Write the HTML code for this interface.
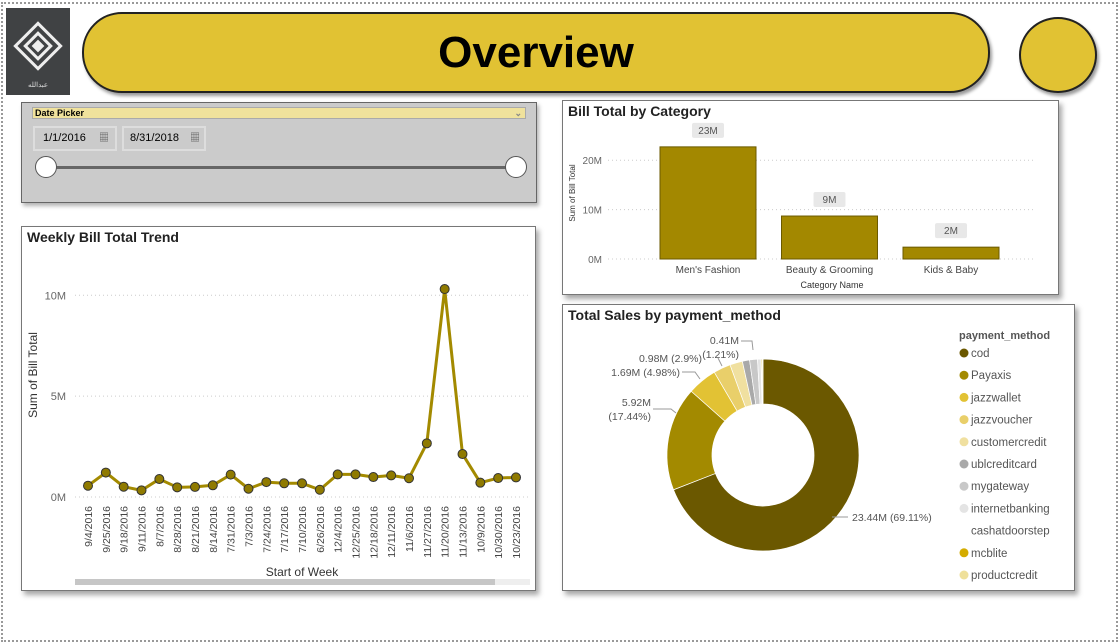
<!DOCTYPE html>
<html><head><meta charset="utf-8">
<style>
*{margin:0;padding:0;box-sizing:border-box}
body{width:1120px;height:631px;background:#fff;position:relative;overflow:hidden;font-family:"Liberation Sans","Noto Sans CJK SC",sans-serif}
.card{position:absolute;background:#fff;border:1px solid #777;box-shadow:3px 4px 5px rgba(0,0,0,.35)}
.title{position:absolute;left:5px;top:2px;font-weight:bold;font-size:14px;color:#222}
svg text{font-family:"Liberation Sans",sans-serif}
</style></head><body>
<div style="position:absolute;left:1px;top:2px;width:1117px;height:640px;border:2px dotted #999"></div>
<div style="position:absolute;left:6px;top:8px;width:64px;height:87px;background:#404244">
 <svg width="64" height="87"><g transform="translate(32,38) rotate(45)" fill="none" stroke="#eee" stroke-width="3"><rect x="-16" y="-16" width="32" height="32"/><rect x="-9" y="-9" width="18" height="18"/><rect x="-3" y="-3" width="6" height="6" fill="#eee"/></g><text x="32" y="79" fill="#ddd" font-size="7" text-anchor="middle">عبدالله</text></svg>
</div>
<div style="position:absolute;left:82px;top:12px;width:908px;height:81px;background:#e1c233;border:2px solid #222;border-radius:40px;box-shadow:2px 3px 3px rgba(0,0,0,.4);text-align:center;line-height:78px;font-size:44px;font-weight:bold;color:#000">Overview</div>
<div style="position:absolute;left:1019px;top:17px;width:78px;height:76px;border-radius:50%;background:#e1c233;border:2px solid #222;box-shadow:2px 3px 3px rgba(0,0,0,.4)"></div>

<div style="position:absolute;left:21px;top:102px;width:516px;height:101px;background:#cbcbcb;border:1px solid #666;box-shadow:2px 3px 4px rgba(0,0,0,.3)">
 <div style="position:absolute;left:10px;top:4px;width:494px;height:12px;background:#f0e29c;border:1px solid #aaa;font-size:9px;font-weight:bold;line-height:10px;padding-left:2px">Date Picker<span style="position:absolute;right:3px;top:0;color:#888">⌄</span></div>
 <div style="position:absolute;left:11px;top:23px;width:84px;height:25px;border:2px solid #ddd;font-size:11px;line-height:21px;padding-left:8px;white-space:nowrap">1/1/2016<span style="position:absolute;right:6px;color:#555;font-size:10px">▦</span></div>
 <div style="position:absolute;left:100px;top:23px;width:84px;height:25px;border:2px solid #ddd;font-size:11px;line-height:21px;padding-left:6px;white-space:nowrap">8/31/2018<span style="position:absolute;right:4px;color:#555;font-size:10px">▦</span></div>
 <div style="position:absolute;left:25px;top:63px;width:470px;height:3px;background:#666"></div>
 <div style="position:absolute;left:13px;top:53px;width:22px;height:22px;border-radius:50%;background:#fff;border:1px solid #555"></div>
 <div style="position:absolute;left:483px;top:53px;width:22px;height:22px;border-radius:50%;background:#fff;border:1px solid #555"></div>
</div>

<div class="card" style="left:21px;top:226px;width:515px;height:365px">
 <div class="title">Weekly Bill Total Trend</div>
</div>
<svg id="line" style="position:absolute;left:0;top:0" width="1120" height="631"></svg>

<div class="card" style="left:562px;top:100px;width:497px;height:195px">
 <div class="title">Bill Total by Category</div>
</div>
<div class="card" style="left:562px;top:304px;width:513px;height:287px">
 <div class="title">Total Sales by payment_method</div>
</div>
<svg id="over" style="position:absolute;left:0;top:0" width="1120" height="631"></svg>

<script>
// ---- weekly line data
const weeks=["9/4/2016","9/25/2016","9/18/2016","9/11/2016","8/7/2016","8/28/2016","8/21/2016","8/14/2016","7/31/2016","7/3/2016","7/24/2016","7/17/2016","7/10/2016","6/26/2016","12/4/2016","12/25/2016","12/18/2016","12/11/2016","11/6/2016","11/27/2016","11/20/2016","11/13/2016","10/9/2016","10/30/2016","10/23/2016"];
const weekValues=[0.56,1.21,0.51,0.33,0.89,0.48,0.50,0.58,1.11,0.41,0.74,0.68,0.68,0.36,1.12,1.12,0.99,1.07,0.93,2.66,10.31,2.13,0.71,0.94,0.97];
const lineTicks=[0,5,10];
const lineTickLabels=["0M","5M","10M"];
// ---- category bar data
const categories=["Men's Fashion","Beauty & Grooming","Kids & Baby"];
const categoryValues=[22.7,8.7,2.4];
const categoryLabels=["23M","9M","2M"];
const barTicks=[0,10,20];
const barTickLabels=["0M","10M","20M"];
// ---- payment donut data
const methods=["cod","Payaxis","jazzwallet","jazzvoucher","customercredit","ublcreditcard","mygateway","internetbanking","cashatdoorstep","mcblite","productcredit"];
const methodValues=[23.44,5.92,1.69,0.98,0.72,0.41,0.45,0.20,0.02,0.06,0.03];
const methodColors=["#6b5800","#a38a00","#e2c234","#e9cf6a","#f0e0a0","#a9a9a9","#c8c8c8","#e4e4e4","#ffffff","#d4ac00","#efe09a"];

const NS="http://www.w3.org/2000/svg";
function mk(p,tag,attrs,txt){const e=document.createElementNS(NS,tag);for(const k in attrs)e.setAttribute(k,attrs[k]);if(txt!=null)e.textContent=txt;p.appendChild(e);return e;}

// line chart
const L=document.getElementById('line');
const ly=v=>497-v*20.17;
const lx=i=>88+i*(516-88)/(weeks.length-1);
lineTicks.forEach((t,i)=>{
 const g=mk(L,'line',{x1:75,x2:530,y1:ly(t),y2:ly(t),stroke:'#ccc','stroke-dasharray':'1,3'});
 
 const tx=mk(L,'text',{x:66,y:ly(t)+4,'text-anchor':'end','font-size':11,fill:'#666'},lineTickLabels[i]);
 
});
weeks.forEach((w,i)=>{
 const tx=mk(L,'text',{x:0,y:0,'text-anchor':'end','font-size':10.5,fill:'#444',transform:`translate(${lx(i)+4},506) rotate(-90)`},w);
 
});
const pl=mk(L,'polyline',{points:weekValues.map((v,i)=>lx(i)+','+ly(v)).join(' '),fill:'none',stroke:'#a38a00','stroke-width':3,'stroke-linejoin':'round'});

weekValues.forEach((v,i)=>{
 const c=mk(L,'circle',{cx:lx(i),cy:ly(v),r:4.5,fill:'#8f7a00',stroke:'#333','stroke-width':1});
 
});
let t1=mk(L,'text',{x:0,y:0,'text-anchor':'middle','font-size':12,fill:'#333',transform:'translate(37,375) rotate(-90)'},'Sum of Bill Total');

let t2=mk(L,'text',{x:302,y:576,'text-anchor':'middle','font-size':12,fill:'#333'},'Start of Week');

let sb=mk(L,'rect',{x:75,y:579,width:455,height:6,fill:'#eee'});

let st=mk(L,'rect',{x:75,y:579,width:420,height:6,fill:'#c6c6c6'});


// bar chart
const O=document.getElementById('over');
const by=v=>259-v*4.94;
const bx=i=>708+i*121.5;
barTicks.forEach((t,i)=>{
 const g=mk(O,'line',{x1:608,x2:1035,y1:by(t),y2:by(t),stroke:'#ccc','stroke-dasharray':'1,3'});
 
 const tx=mk(O,'text',{x:602,y:by(t)+4,'text-anchor':'end','font-size':10,fill:'#666'},barTickLabels[i]);
 
});
categories.forEach((c,i)=>{
 const r=mk(O,'rect',{x:bx(i)-48,y:by(categoryValues[i]),width:96,height:259-by(categoryValues[i]),fill:'#a38800',stroke:'#6b5a00','stroke-width':1});
 
 const lb=mk(O,'rect',{x:bx(i)-16,y:by(categoryValues[i])-24,width:32,height:15,rx:2,fill:'#e8e8e8'});
 
 const lt=mk(O,'text',{x:bx(i),y:by(categoryValues[i])-13,'text-anchor':'middle','font-size':10,fill:'#555'},categoryLabels[i]);
 
 const ct=mk(O,'text',{x:bx(i),y:273,'text-anchor':'middle','font-size':10,fill:'#444'},c);
 
});
let bt=mk(O,'text',{x:832,y:288,'text-anchor':'middle','font-size':9,fill:'#333'},'Category Name');

let byt=mk(O,'text',{x:0,y:0,'text-anchor':'middle','font-size':8,fill:'#333',transform:'translate(575,193) rotate(-90)'},'Sum of Bill Total');


// donut
const cx=763,cy=455,R=96,r0=51;
const total=methodValues.reduce((a,b)=>a+b,0);
let ang=0;
methodValues.forEach((v,i)=>{
 const a0=ang,a1=ang+v/total*2*Math.PI;ang=a1;
 const p=(a,rr)=>[cx+rr*Math.sin(a),cy-rr*Math.cos(a)];
 const big=(a1-a0)>Math.PI?1:0;
 const [x0,y0]=p(a0,R),[x1,y1]=p(a1,R),[x2,y2]=p(a1,r0),[x3,y3]=p(a0,r0);
 const s=mk(O,'path',{d:`M${x0},${y0}A${R},${R} 0 ${big} 1 ${x1},${y1}L${x2},${y2}A${r0},${r0} 0 ${big} 0 ${x3},${y3}Z`,fill:methodColors[i],stroke:'#fff','stroke-width':0.7});
 
});
const sliceLabels=[["23.44M (69.11%)",852,521,"start"],["5.92M",651,406,"end"],["(17.44%)",651,420,"end"],["1.69M (4.98%)",680,376,"end"],["0.98M (2.9%)",702,362,"end"],["(1.21%)",739,358,"end"],["0.41M",739,344,"end"]];
sliceLabels.forEach(l=>{
 const t=mk(O,'text',{x:l[1],y:l[2],'text-anchor':l[3],'font-size':10.5,fill:'#555'},l[0]);
 
});
[["M832,517 L848,517"],["M653,409 L671,409 L676,413"],["M682,372 L695,372 L700,379"],["M718,358 L722,366"],["M741,341 L752,341 L753,350"]].forEach(d=>{
 const ln=mk(O,'path',{d:d[0],fill:'none',stroke:'#999','stroke-width':1});
 
});
let lgT=mk(O,'text',{x:959,y:339,'font-size':11,'font-weight':'bold',fill:'#555'},'payment_method');

methods.forEach((m,i)=>{
 const y=353+i*22.2;
 const d=mk(O,'circle',{cx:964,cy:y,r:4.5,fill:methodColors[i]});
 
 const t=mk(O,'text',{x:971,y:y+4,'font-size':11.5,fill:'#555'},m);
 
});
</script>
</body></html>
